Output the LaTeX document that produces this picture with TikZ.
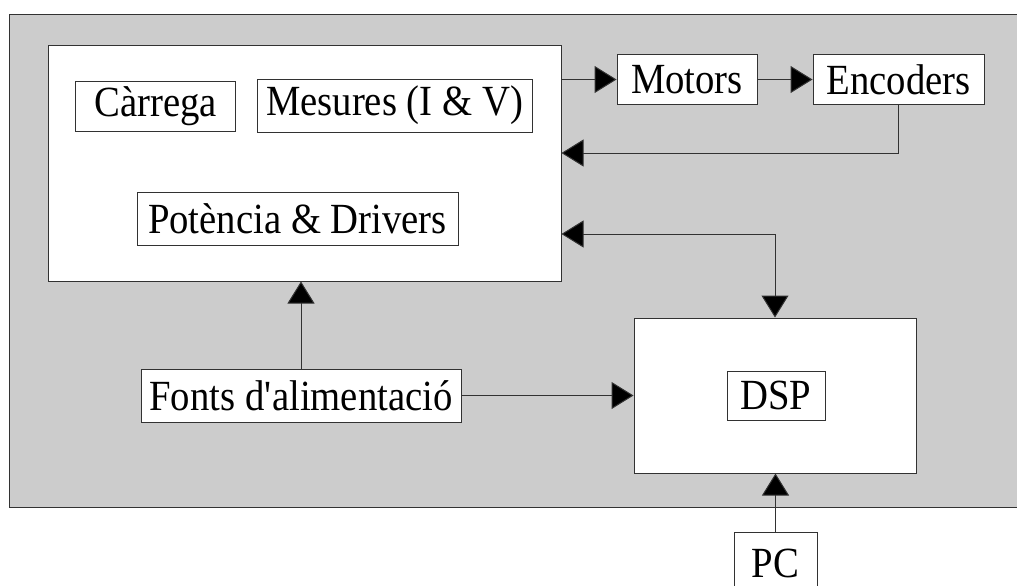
\documentclass[tikz,border=0pt]{standalone}
\usepackage{fontspec}
\setmainfont{Liberation Serif}[FakeStretch=0.9]
\usetikzlibrary{arrows.meta}
\definecolor{bggray}{RGB}{204,204,204}
\definecolor{linegray}{RGB}{50,50,50}
\tikzset{
  box/.style={draw=linegray, line width=1pt, fill=white, inner sep=0pt, font=\fontsize{43}{45}\selectfont},
  conn/.style={draw=linegray, line width=1pt, -{Triangle[length=22pt,width=27pt,fill=black]}},
  conn2/.style={draw=linegray, line width=1pt, {Triangle[length=22pt,width=27pt,fill=black]}-{Triangle[length=22pt,width=27pt,fill=black]}}
}
\begin{document}
\begin{tikzpicture}[x=1pt,y=-1pt]
\useasboundingbox (0,0) rectangle (1017,586);
\clip (0,0) rectangle (1017,586);
\fill[bggray, draw=linegray, line width=1pt] (9.5,14.5) rectangle (1030,507);
% main box
\node[box, minimum width=513pt, minimum height=235pt] (main) at (304.5,163.5) {};
\node[box, minimum width=160pt, minimum height=50pt] (carrega) at (155.5,106) {Càrrega};
\node[box, minimum width=275pt, minimum height=53pt] (mesures) at (394.5,105.5) {Mesures (I \& V)};
\node[box, minimum width=321pt, minimum height=53pt] (potencia) at (297.5,218.5) {Potència \& Drivers};
\node[box, minimum width=140pt, minimum height=49pt] (motors) at (687,79.5) {Motors};
\node[box, minimum width=171pt, minimum height=49pt] (enc) at (898.5,79.5) {Encoders};
\node[box, minimum width=282pt, minimum height=155pt] (dsp) at (775,395.5) {};
\node[box, minimum width=98pt, minimum height=49pt] (dspin) at (776,395.5) {DSP};
\node[box, minimum width=320pt, minimum height=53pt] (fonts) at (301,395.5) {Fonts d\textquotesingle alimentació};
\node[box, minimum width=83pt, minimum height=62pt] (pc) at (775.5,563) {PC};
% connectors
\draw[conn] (main.east |- motors) -- (motors.west);
\draw[conn] (motors.east) -- (enc.west);
\draw[conn] (enc.south) |- ([yshift=10.5pt]main.east);
\draw[conn2] ([yshift=-70.5pt]main.east) -| (dsp.north);
\draw[conn] (fonts.north) -- (fonts.north |- main.south);
\draw[conn] (fonts.east) -- (dsp.west |- fonts.east);
\draw[conn] (pc.north) -- (pc.north |- dsp.south);
\end{tikzpicture}
\end{document}
